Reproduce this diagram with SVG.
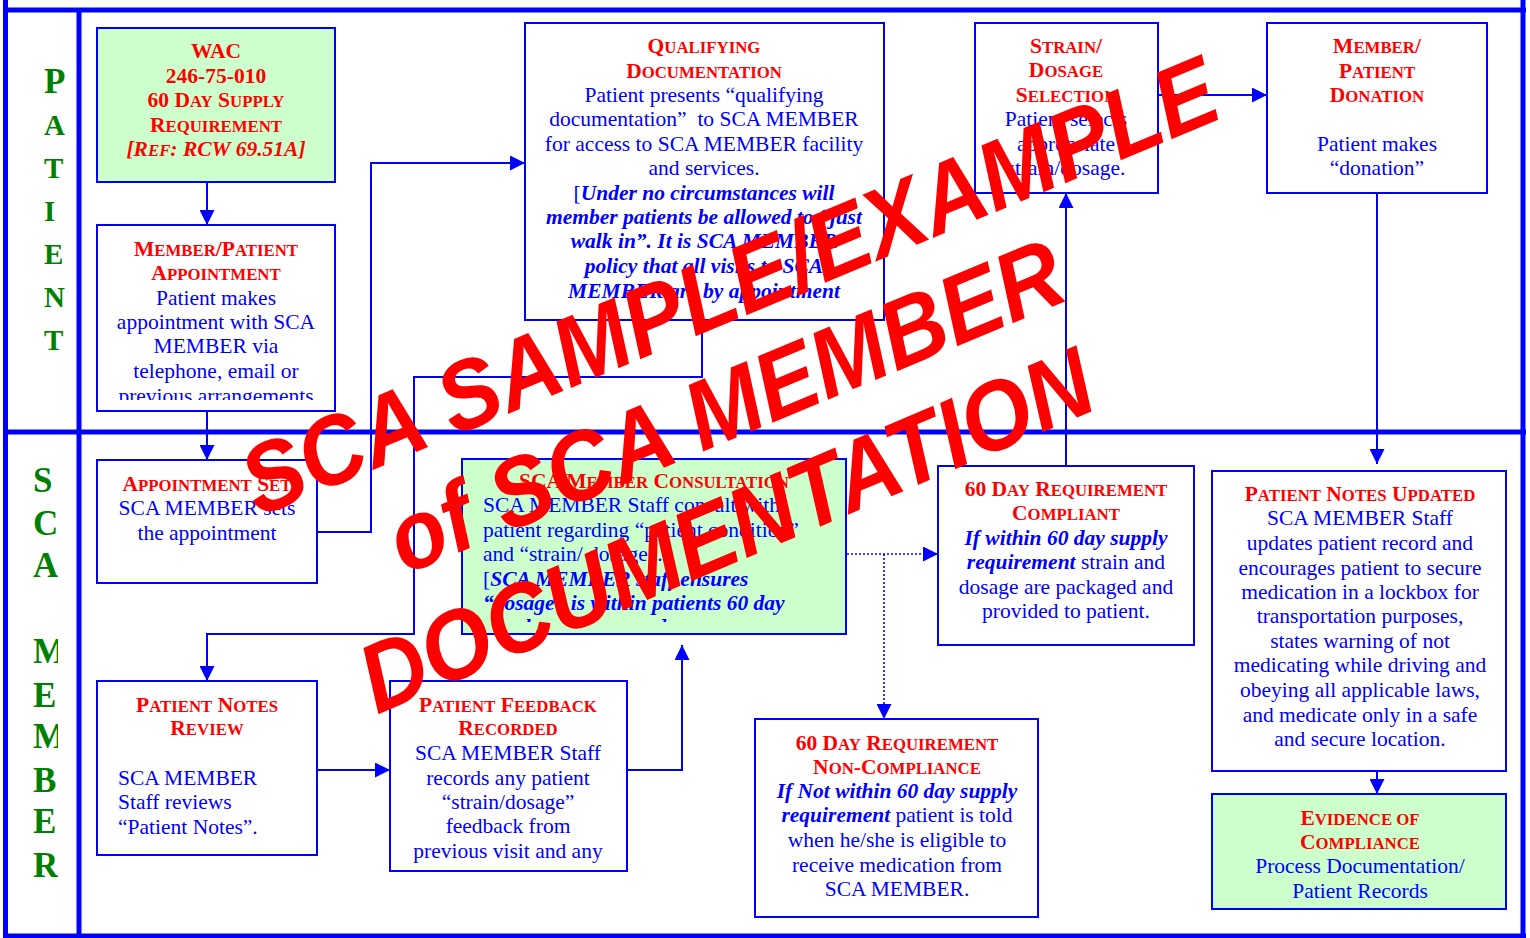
<svg xmlns="http://www.w3.org/2000/svg" width="1530" height="938" viewBox="0 0 1530 938">
<style>
.box{fill:#fff;stroke:#00f;stroke-width:2}
.gbox{fill:#ccffcc;stroke:#00f;stroke-width:2}
.frame{stroke:#00f;stroke-width:5;fill:none}
.c{stroke:#00f;stroke-width:2;fill:none}
.d{stroke:#00f;stroke-width:1.6;stroke-dasharray:2 2;fill:none}
text{font-family:'Liberation Serif','Times New Roman',serif}
.h{font-weight:bold;fill:#f00;font-size:21.5px;text-anchor:middle}
.s{font-size:16.8px}
.b{fill:#00f;font-size:21.5px;text-anchor:middle}
.bl{fill:#00f;font-size:21.5px}
.bi{font-weight:bold;font-style:italic}
.ln{font-weight:bold;fill:#008000}
.wm{font-family:'Liberation Sans',Arial,sans-serif;font-weight:bold;font-style:italic;font-size:90px;fill:#f00;text-anchor:middle}
</style>
<defs>
<marker id="ah" markerUnits="userSpaceOnUse" markerWidth="15" markerHeight="15" refX="15" refY="7.5" orient="auto" viewBox="0 0 15 15"><path d="M0,0L15,7.5L0,15z" fill="#00f"/></marker>
<clipPath id="clipAppt"><rect x="98" y="226" width="236" height="174"/></clipPath>
<clipPath id="clipCons"><rect x="463" y="460" width="383" height="162"/></clipPath>
<clipPath id="clipLane"><rect x="0" y="440" width="58" height="490"/></clipPath>
</defs>
<rect width="1530" height="938" fill="#fff"/>
<g id="frame">
<path class="frame" d="M5.5,0V938M1523,0V938M3,10H1526M3,936H1526M79,10V936M3,432H1526"/>
</g>
<g id="lane-patient" class="ln">
<text x="44" y="93" font-size="35">P</text>
<text x="44" y="135" font-size="29">A</text>
<text x="44" y="178" font-size="29">T</text>
<text x="44" y="221" font-size="29">I</text>
<text x="44" y="264" font-size="29">E</text>
<text x="44" y="307" font-size="29">N</text>
<text x="44" y="350" font-size="29">T</text>
</g>
<g id="lane-sca-member" class="ln" font-size="35" clip-path="url(#clipLane)">
<text x="33" y="492">S</text>
<text x="33" y="535">C</text>
<text x="33" y="577">A</text>
<text x="33" y="663">M</text>
<text x="33" y="707">E</text>
<text x="33" y="748">M</text>
<text x="33" y="792">B</text>
<text x="33" y="833">E</text>
<text x="33" y="877">R</text>
</g>
<g id="connectors">
<path class="c" marker-end="url(#ah)" d="M207,182V225"/>
<path class="c" marker-end="url(#ah)" d="M207,411V460"/>
<path class="c" marker-end="url(#ah)" d="M317,532H371V163H525"/>
<path class="c" marker-end="url(#ah)" d="M702,320V377H414V634H207V681"/>
<path class="c" marker-end="url(#ah)" d="M1158,95H1267"/>
<path class="c" marker-end="url(#ah)" d="M1377,193V464"/>
<path class="c" marker-end="url(#ah)" d="M1377,771V794"/>
<path class="c" marker-end="url(#ah)" d="M1066,466V193"/>
<path class="d" marker-end="url(#ah)" d="M847,554H938"/>
<path class="d" marker-end="url(#ah)" d="M884,554V719"/>
<path class="c" marker-end="url(#ah)" d="M317,770H390"/>
<path class="c" marker-end="url(#ah)" d="M627,770H682V645"/>
</g>
<g id="wac">
<rect class="gbox" x="97" y="28" width="238" height="154"/>
<text class="h" x="216" y="58">WAC</text>
<text class="h" x="216" y="83">246-75-010</text>
<text class="h" x="216" y="107">60 D<tspan class="s">AY</tspan> S<tspan class="s">UPPLY</tspan></text>
<text class="h" x="216" y="132">R<tspan class="s">EQUIREMENT</tspan></text>
<text class="h" x="216" y="156" font-style="italic">[R<tspan class="s">EF</tspan>: RCW 69.51A]</text>
</g>
<g id="member-patient-appointment">
<rect class="box" x="97" y="225" width="238" height="186"/>
<g clip-path="url(#clipAppt)">
<text class="h" x="216" y="256">M<tspan class="s">EMBER</tspan>/P<tspan class="s">ATIENT</tspan></text>
<text class="h" x="216" y="280">A<tspan class="s">PPOINTMENT</tspan></text>
<text class="b" x="216" y="305">Patient makes</text>
<text class="b" x="216" y="329">appointment with SCA</text>
<text class="b" x="216" y="353">MEMBER via</text>
<text class="b" x="216" y="378">telephone, email or</text>
<text class="b" x="216" y="403">previous arrangements</text>
</g>
</g>
<g id="qualifying-documentation">
<rect class="box" x="525" y="23" width="359" height="297"/>
<text class="h" x="704" y="53">Q<tspan class="s">UALIFYING</tspan></text>
<text class="h" x="704" y="78">D<tspan class="s">OCUMENTATION</tspan></text>
<text class="b" x="704" y="102">Patient presents “qualifying</text>
<text class="b" x="704" y="126" xml:space="preserve">documentation”  to SCA MEMBER</text>
<text class="b" x="704" y="151">for access to SCA MEMBER facility</text>
<text class="b" x="704" y="175">and services.</text>
<text class="b" x="704" y="200">[<tspan class="bi">Under no circumstances will</tspan></text>
<text class="b bi" x="704" y="224">member patients be allowed to “just</text>
<text class="b bi" x="704" y="248">walk in”. It is SCA MEMBER</text>
<text class="b bi" x="704" y="273">policy that all visits to SCA</text>
<text class="b bi" x="704" y="298">MEMBER are by appointment</text>
</g>
<g id="strain-dosage-selection">
<rect class="box" x="975" y="23" width="183" height="170"/>
<text class="h" x="1066" y="53">S<tspan class="s">TRAIN</tspan>/</text>
<text class="h" x="1066" y="77">D<tspan class="s">OSAGE</tspan></text>
<text class="h" x="1066" y="102">S<tspan class="s">ELECTION</tspan></text>
<text class="b" x="1066" y="126">Patient selects</text>
<text class="b" x="1066" y="151">appropriate</text>
<text class="b" x="1066" y="175">strain/dosage.</text>
</g>
<g id="member-patient-donation">
<rect class="box" x="1267" y="23" width="220" height="170"/>
<text class="h" x="1377" y="53">M<tspan class="s">EMBER</tspan>/</text>
<text class="h" x="1377" y="78">P<tspan class="s">ATIENT</tspan></text>
<text class="h" x="1377" y="102">D<tspan class="s">ONATION</tspan></text>
<text class="b" x="1377" y="151">Patient makes</text>
<text class="b" x="1377" y="175">“donation”</text>
</g>
<g id="appointment-set">
<rect class="box" x="97" y="460" width="220" height="123"/>
<text class="h" x="207" y="491">A<tspan class="s">PPOINTMENT</tspan> S<tspan class="s">ET</tspan></text>
<text class="b" x="207" y="515">SCA MEMBER sets</text>
<text class="b" x="207" y="540">the appointment</text>
</g>
<g id="sca-member-consultation">
<rect class="gbox" x="462" y="459" width="384" height="175"/>
<g clip-path="url(#clipCons)">
<text class="h" x="654" y="488">SCA M<tspan class="s">EMBER</tspan> C<tspan class="s">ONSULTATION</tspan></text>
<text class="bl" x="483" y="512">SCA MEMBER Staff consult with</text>
<text class="bl" x="483" y="537">patient regarding “patient condition”</text>
<text class="bl" x="483" y="561">and “strain/ dosage”.</text>
<text class="bl" x="483" y="586">[<tspan class="bi">SCA MEMBER staff ensures</tspan></text>
<text class="bl bi" x="483" y="610">“dosage” is within patients 60 day</text>
<text class="bl bi" x="483" y="634">supply requirement.]</text>
</g>
</g>
<g id="compliant">
<rect class="box" x="938" y="466" width="256" height="179"/>
<text class="h" x="1066" y="496">60 D<tspan class="s">AY</tspan> R<tspan class="s">EQUIREMENT</tspan></text>
<text class="h" x="1066" y="520">C<tspan class="s">OMPLIANT</tspan></text>
<text class="b bi" x="1066" y="545">If within 60 day supply</text>
<text class="b" x="1066" y="569"><tspan class="bi">requirement</tspan> strain and</text>
<text class="b" x="1066" y="594">dosage are packaged and</text>
<text class="b" x="1066" y="618">provided to patient.</text>
</g>
<g id="non-compliance">
<rect class="box" x="755" y="719" width="283" height="198"/>
<text class="h" x="897" y="750">60 D<tspan class="s">AY</tspan> R<tspan class="s">EQUIREMENT</tspan></text>
<text class="h" x="897" y="774">N<tspan class="s">ON</tspan>-C<tspan class="s">OMPLIANCE</tspan></text>
<text class="b bi" x="897" y="798">If Not within 60 day supply</text>
<text class="b" x="897" y="822"><tspan class="bi">requirement</tspan> patient is told</text>
<text class="b" x="897" y="847">when he/she is eligible to</text>
<text class="b" x="897" y="872">receive medication from</text>
<text class="b" x="897" y="896">SCA MEMBER.</text>
</g>
<g id="patient-notes-review">
<rect class="box" x="97" y="681" width="220" height="174"/>
<text class="h" x="207" y="712">P<tspan class="s">ATIENT</tspan> N<tspan class="s">OTES</tspan></text>
<text class="h" x="207" y="735">R<tspan class="s">EVIEW</tspan></text>
<text class="bl" x="118" y="785">SCA MEMBER</text>
<text class="bl" x="118" y="809">Staff reviews</text>
<text class="bl" x="118" y="834">“Patient Notes”.</text>
</g>
<g id="patient-feedback-recorded">
<rect class="box" x="390" y="681" width="237" height="190"/>
<text class="h" x="508" y="712">P<tspan class="s">ATIENT</tspan> F<tspan class="s">EEDBACK</tspan></text>
<text class="h" x="508" y="735">R<tspan class="s">ECORDED</tspan></text>
<text class="b" x="508" y="760">SCA MEMBER Staff</text>
<text class="b" x="508" y="785">records any patient</text>
<text class="b" x="508" y="809">“strain/dosage”</text>
<text class="b" x="508" y="833">feedback from</text>
<text class="b" x="508" y="858">previous visit and any</text>
</g>
<g id="patient-notes-updated">
<rect class="box" x="1212" y="471" width="294" height="300"/>
<text class="h" x="1360" y="501">P<tspan class="s">ATIENT</tspan> N<tspan class="s">OTES</tspan> U<tspan class="s">PDATED</tspan></text>
<text class="b" x="1360" y="525">SCA MEMBER Staff</text>
<text class="b" x="1360" y="550">updates patient record and</text>
<text class="b" x="1360" y="575">encourages patient to secure</text>
<text class="b" x="1360" y="599">medication in a lockbox for</text>
<text class="b" x="1360" y="623">transportation purposes,</text>
<text class="b" x="1360" y="648">states warning of not</text>
<text class="b" x="1360" y="672">medicating while driving and</text>
<text class="b" x="1360" y="697">obeying all applicable laws,</text>
<text class="b" x="1360" y="722">and medicate only in a safe</text>
<text class="b" x="1360" y="746">and secure location.</text>
</g>
<g id="evidence-of-compliance">
<rect class="gbox" x="1212" y="794" width="294" height="115"/>
<text class="h" x="1360" y="825">E<tspan class="s">VIDENCE OF</tspan></text>
<text class="h" x="1360" y="849">C<tspan class="s">OMPLIANCE</tspan></text>
<text class="b" x="1360" y="873">Process Documentation/</text>
<text class="b" x="1360" y="898">Patient Records</text>
</g>
<g id="watermark">
<text class="wm" font-size="89" transform="translate(742,317) rotate(-22.5) scale(1,1.08)">SCA SAMPLE/EXAMPLE</text>
<text class="wm" transform="translate(738,437) rotate(-22.5) scale(1,1.08)">of SCA MEMBER</text>
<text class="wm" font-size="92" transform="translate(739,561) rotate(-23) scale(1,1.08)">DOCUMENTATION</text>
</g>
</svg>
